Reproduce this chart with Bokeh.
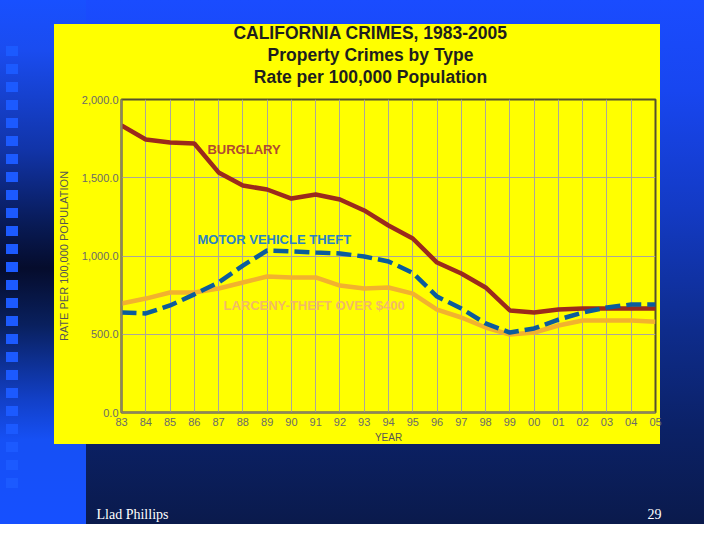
from bokeh.plotting import figure
from bokeh.models import Range1d, FixedTicker, NumeralTickFormatter, Label, Title, LinearAxis
from bokeh.embed import file_html
from bokeh.resources import INLINE

# ---------------- data ----------------
years = list(range(1983, 2006))
year_labels = ["83", "84", "85", "86", "87", "88", "89", "90", "91", "92", "93", "94",
               "95", "96", "97", "98", "99", "00", "01", "02", "03", "04", "05"]
burglary = [1834, 1744, 1725, 1719, 1534, 1450, 1425, 1367, 1393, 1361, 1291, 1195,
            1112, 958, 888, 799, 652, 639, 658, 665, 665, 665, 665]
motor_vehicle_theft = [639, 633, 684, 755, 831, 939, 1035, 1029, 1022, 1016, 997, 965,
                       892, 741, 664, 569, 511, 537, 594, 639, 671, 690, 690]
larceny_over_400 = [696, 728, 767, 767, 792, 831, 869, 863, 863, 811, 792, 799,
                    760, 658, 607, 543, 498, 511, 556, 588, 588, 588, 580]
y_ticks = [0, 500, 1000, 1500, 2000]
title_lines = ["CALIFORNIA CRIMES, 1983-2005", "Property Crimes by Type", "Rate per 100,000 Population"]
footer_texts = ["Llad Phillips", "29"]

# ---------------- figure ----------------
W, H = 704, 524
p = figure(width=W, height=H, output_backend="svg", toolbar_location=None, title=None,
           x_range=Range1d(1983, 2005), y_range=Range1d(0, 2000),
           min_border_left=121, min_border_right=49, min_border_top=99, min_border_bottom=112)

p.background_fill_color = "#ffff00"
p.border_fill_color = None
p.outline_line_color = "#55502f"
p.outline_line_width = 2

bg = ", ".join([
    # yellow chart panel
    "linear-gradient(#ffff00, #ffff00) 54px 24px / 606px 420px no-repeat",
    # column of squares
    "repeating-linear-gradient(to bottom, #1c5aff 0px, #1c5aff 10px, transparent 10px, transparent 18px) "
    "6px 46px / 12px 446px no-repeat",
    # left strip
    "linear-gradient(to bottom, #1850ff 0px, #1a4cf0 50px, #1134a8 150px, #081a55 225px, #050c2c 268px, "
    "#09205e 325px, #1240c8 400px, #1650f5 440px, #1650ff 524px) 0px 0px / 86px 100% no-repeat",
    # main slide gradient
    "linear-gradient(to bottom, #1a4cff 0px, #1846f0 90px, #133ac4 210px, #0e2c8c 330px, #0b2166 430px, #0a1a4c 524px)",
])
p.styles = {"background": bg}

# title: three centred lines, added innermost first; padding = (left, right, top, bottom)
title_pads = [(0, 36, 0, 0), (0, 36, 0, 0), (0, 36, 0, 13)]
for txt, pad in reversed(list(zip(title_lines, title_pads))):
    p.add_layout(Title(text=txt, align="center", standoff=0, padding=pad,
                       text_font="Liberation Sans", text_font_size="17.5px",
                       text_font_style="bold", text_color="#1e1e1e"), "above")

# axes
p.xaxis.ticker = FixedTicker(ticks=years)
p.xaxis.major_label_overrides = {y: l for y, l in zip(years, year_labels)}
p.yaxis.ticker = FixedTicker(ticks=y_ticks)
p.yaxis.formatter = NumeralTickFormatter(format="0,0.0")
p.xgrid.ticker = FixedTicker(ticks=years)
p.ygrid.ticker = FixedTicker(ticks=y_ticks)
p.xaxis.axis_label = "YEAR"
p.yaxis.axis_label = "RATE PER 100,000 POPULATION"

for ax in (p.xaxis, p.yaxis):
    ax.major_tick_in = 0
    ax.major_tick_out = 0
    ax.minor_tick_line_color = None
    ax.axis_line_color = "#8c8466"
    ax.axis_line_width = 2
    ax.major_label_text_font = "Liberation Sans"
    ax.major_label_text_font_size = "11px"
    ax.major_label_text_color = "#6a6a6a"
    ax.axis_label_text_font = "Liberation Sans"
    ax.axis_label_text_font_size = "10px"
    ax.axis_label_text_font_style = "normal"
    ax.axis_label_text_color = "#555555"
p.yaxis.axis_label_text_font_size = "11px"
p.xaxis.major_label_standoff = 5
p.xaxis.axis_label_standoff = 3
p.yaxis.major_label_standoff = 3
p.yaxis.axis_label_standoff = 9

p.grid.grid_line_color = "#aca69a"
p.grid.grid_line_width = 1

# lines
p.line(years, larceny_over_400, line_color="#f2b22e", line_width=4.5)
p.line(years, burglary, line_color="#9b2a1c", line_width=4.5)
p.line(years, motor_vehicle_theft, line_color="#0b5c9c", line_width=4.5, line_dash="15 6")

# series labels
lab_style = dict(text_font="Liberation Sans", text_font_size="13px", text_font_style="bold",
                 text_baseline="middle")
p.add_layout(Label(x=1986.54, y=1680, text="BURGLARY", text_color="#b04a30", **lab_style))
p.add_layout(Label(x=1986.13, y=1105, text="MOTOR VEHICLE THEFT", text_color="#2a82c4", **lab_style))
p.add_layout(Label(x=1987.2, y=684, text="LARCENY-THEFT OVER $400", text_color="#f2ba66", **lab_style))

# slide footer (page-pixel range below the chart)
p.extra_x_ranges = {"page": Range1d(121, 655)}
footer_pos = [132, 654]
foot_axis = LinearAxis(x_range_name="page", ticker=FixedTicker(ticks=footer_pos),
                       major_label_overrides={k: t for k, t in zip(footer_pos, footer_texts)},
                       axis_line_color=None, major_tick_in=0, major_tick_out=0,
                       minor_tick_line_color=None, major_label_standoff=61,
                       major_label_text_font="Liberation Serif",
                       major_label_text_font_size="14px", major_label_text_color="#ffffff")
p.add_layout(foot_axis, "below")

open("out.html", "w").write(file_html(p, INLINE))
